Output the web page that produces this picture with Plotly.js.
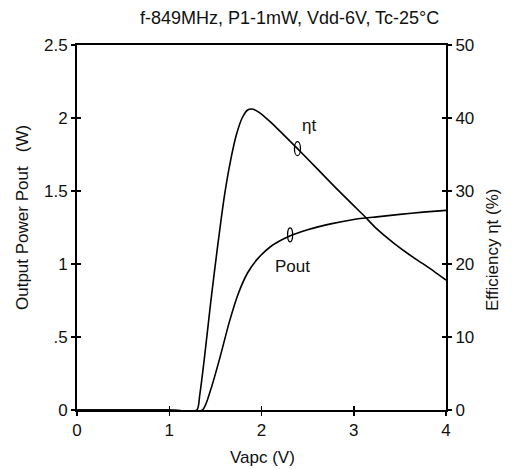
<!DOCTYPE html>
<html>
<head>
<meta charset="utf-8">
<script src="https://cdn.plot.ly/plotly-3.0.1.min.js"></script>
<style>html,body{margin:0;padding:0;background:#fff;}#chart{width:520px;height:469px;}</style>
</head>
<body>
<div id="chart"></div>
<script>
// Vapc (V) and output power Pout (W)
const vapcPout = [0, 1.0, 1.36, 1.45, 1.55, 1.65, 1.75, 1.85, 1.95, 2.1, 2.3, 2.5, 2.75, 3.0, 3.25, 3.5, 3.75, 4.0];
const pout     = [0, 0,   0,    0.14, 0.36, 0.60, 0.80, 0.94, 1.03, 1.12, 1.19, 1.235, 1.275, 1.305, 1.323, 1.34, 1.355, 1.367];
// Vapc (V) and efficiency ηt (%)
const vapcEff  = [0, 1.0, 1.30, 1.33, 1.38, 1.45, 1.52, 1.60, 1.67, 1.73, 1.79, 1.85, 1.91, 1.97, 2.04, 2.12, 2.20, 2.39, 2.60, 2.80, 3.00, 3.12, 3.25, 3.43, 3.60, 3.73, 3.87, 4.0];
const eff      = [0, 0,   0,    2,    7,    14.8, 22,   29.5, 34.5, 37.8, 40,   41.1, 41.2, 40.8, 40.1, 39.2, 38.2, 35.8, 33.1, 30.5, 28.0, 26.5, 24.8, 22.9, 21.3, 20.2, 19.0, 17.8];
// ticks
const xTicks = [0, 1, 2, 3, 4];
const xTickText = ["0", "1", "2", "3", "4"];
const yTicks = [0, 0.5, 1, 1.5, 2, 2.5];
const yTickText = ["0", ".5", "1", "1.5", "2", "2.5"];
const y2Ticks = [0, 10, 20, 30, 40, 50];
const y2TickText = ["0", "10", "20", "30", "40", "50"];

const font = {family: "Liberation Sans, Arial, sans-serif", size: 17, color: "#111"};
const titleFont = {family: "Liberation Sans, Arial, sans-serif", size: 18, color: "#111"};
const lineStyle = {color: "#000", width: 1.6, shape: "spline", smoothing: 0.6};

const traces = [
  {x: vapcPout, y: pout, type: "scatter", mode: "lines", line: lineStyle, xaxis: "x", yaxis: "y", hoverinfo: "skip"},
  {x: vapcEff, y: eff, type: "scatter", mode: "lines", line: lineStyle, xaxis: "x", yaxis: "y2", hoverinfo: "skip"},
  {x: [null], y: [null], xaxis: "x2", yaxis: "y3", type: "scatter", hoverinfo: "skip"},
  {x: [null], y: [null], xaxis: "x2", yaxis: "y4", type: "scatter", hoverinfo: "skip"}
];

const tickCommon = {tickcolor: "#000", tickwidth: 1.5, ticklen: 4, showgrid: false, zeroline: false};

const layout = {
  width: 520, height: 469,
  margin: {l: 77, r: 74, t: 45, b: 59},
  paper_bgcolor: "#fff", plot_bgcolor: "#fff",
  showlegend: false,
  font: font,
  title: {text: "f-849MHz, P1-1mW, Vdd-6V, Tc-25°C", x: 0.557, xanchor: "center", y: 0.963, yanchor: "middle", font: titleFont},
  xaxis: Object.assign({range: [0, 4], tickvals: xTicks, ticktext: xTickText, ticks: "outside",
    showline: true, linecolor: "#000", linewidth: 2, mirror: true, tickfont: font}, tickCommon),
  xaxis2: Object.assign({range: [0, 4], overlaying: "x", tickvals: xTicks, ticks: "inside", showticklabels: false, showline: false}, tickCommon),
  yaxis: Object.assign({range: [0, 2.5], tickvals: yTicks, ticktext: yTickText, ticks: "outside",
    showline: true, linecolor: "#000", linewidth: 2, tickfont: font}, tickCommon),
  yaxis2: Object.assign({range: [0, 50], overlaying: "y", side: "right", tickvals: y2Ticks, ticktext: y2TickText, ticks: "outside",
    showline: true, linecolor: "#000", linewidth: 2, tickfont: font}, tickCommon),
  yaxis3: Object.assign({range: [0, 2.5], overlaying: "y", side: "left", tickvals: yTicks, ticks: "inside", showticklabels: false, showline: false}, tickCommon),
  yaxis4: Object.assign({range: [0, 50], overlaying: "y", side: "right", tickvals: y2Ticks, ticks: "inside", showticklabels: false, showline: false}, tickCommon),
  annotations: [
    {x: 2.52, y: 39, xref: "x", yref: "y2", text: "ηt", showarrow: false, font: font},
    {x: 2.34, y: 0.98, xref: "x", yref: "y", text: "Pout", showarrow: false, font: font},
    {x: 22, y: 218, xref: "paper", yref: "paper", text: "Output Power Pout   (W)", showarrow: false, textangle: -90, font: font},
    {x: 492, y: 250, xref: "paper", yref: "paper", text: "Efficiency ηt (%)", showarrow: false, textangle: -90, font: font},
    {x: 262, y: 457, xref: "paper", yref: "paper", text: "Vapc (V)", showarrow: false, font: font}
  ],
  shapes: [
    {type: "circle", xref: "x", yref: "y2", xsizemode: "pixel", ysizemode: "pixel", xanchor: 2.39, yanchor: 35.8,
     x0: -3, x1: 3, y0: -7, y1: 7, line: {color: "#000", width: 1.3}},
    {type: "circle", xref: "x", yref: "y", xsizemode: "pixel", ysizemode: "pixel", xanchor: 2.31, yanchor: 1.2,
     x0: -2.5, x1: 2.5, y0: -7, y1: 7, line: {color: "#000", width: 1.3}}
  ]
};

// convert pixel positions of axis-title annotations to paper fractions
const plotW = layout.width - layout.margin.l - layout.margin.r;
const plotH = layout.height - layout.margin.t - layout.margin.b;
layout.annotations.forEach(a => {
  if (a.xref === "paper") {
    a.x = (a.x - layout.margin.l) / plotW;
    a.y = (layout.height - layout.margin.b - a.y) / plotH;
    a.xanchor = "center"; a.yanchor = "middle";
  }
});

Plotly.newPlot("chart", traces, layout, {staticPlot: true, displayModeBar: false});
</script>
</body>
</html>
